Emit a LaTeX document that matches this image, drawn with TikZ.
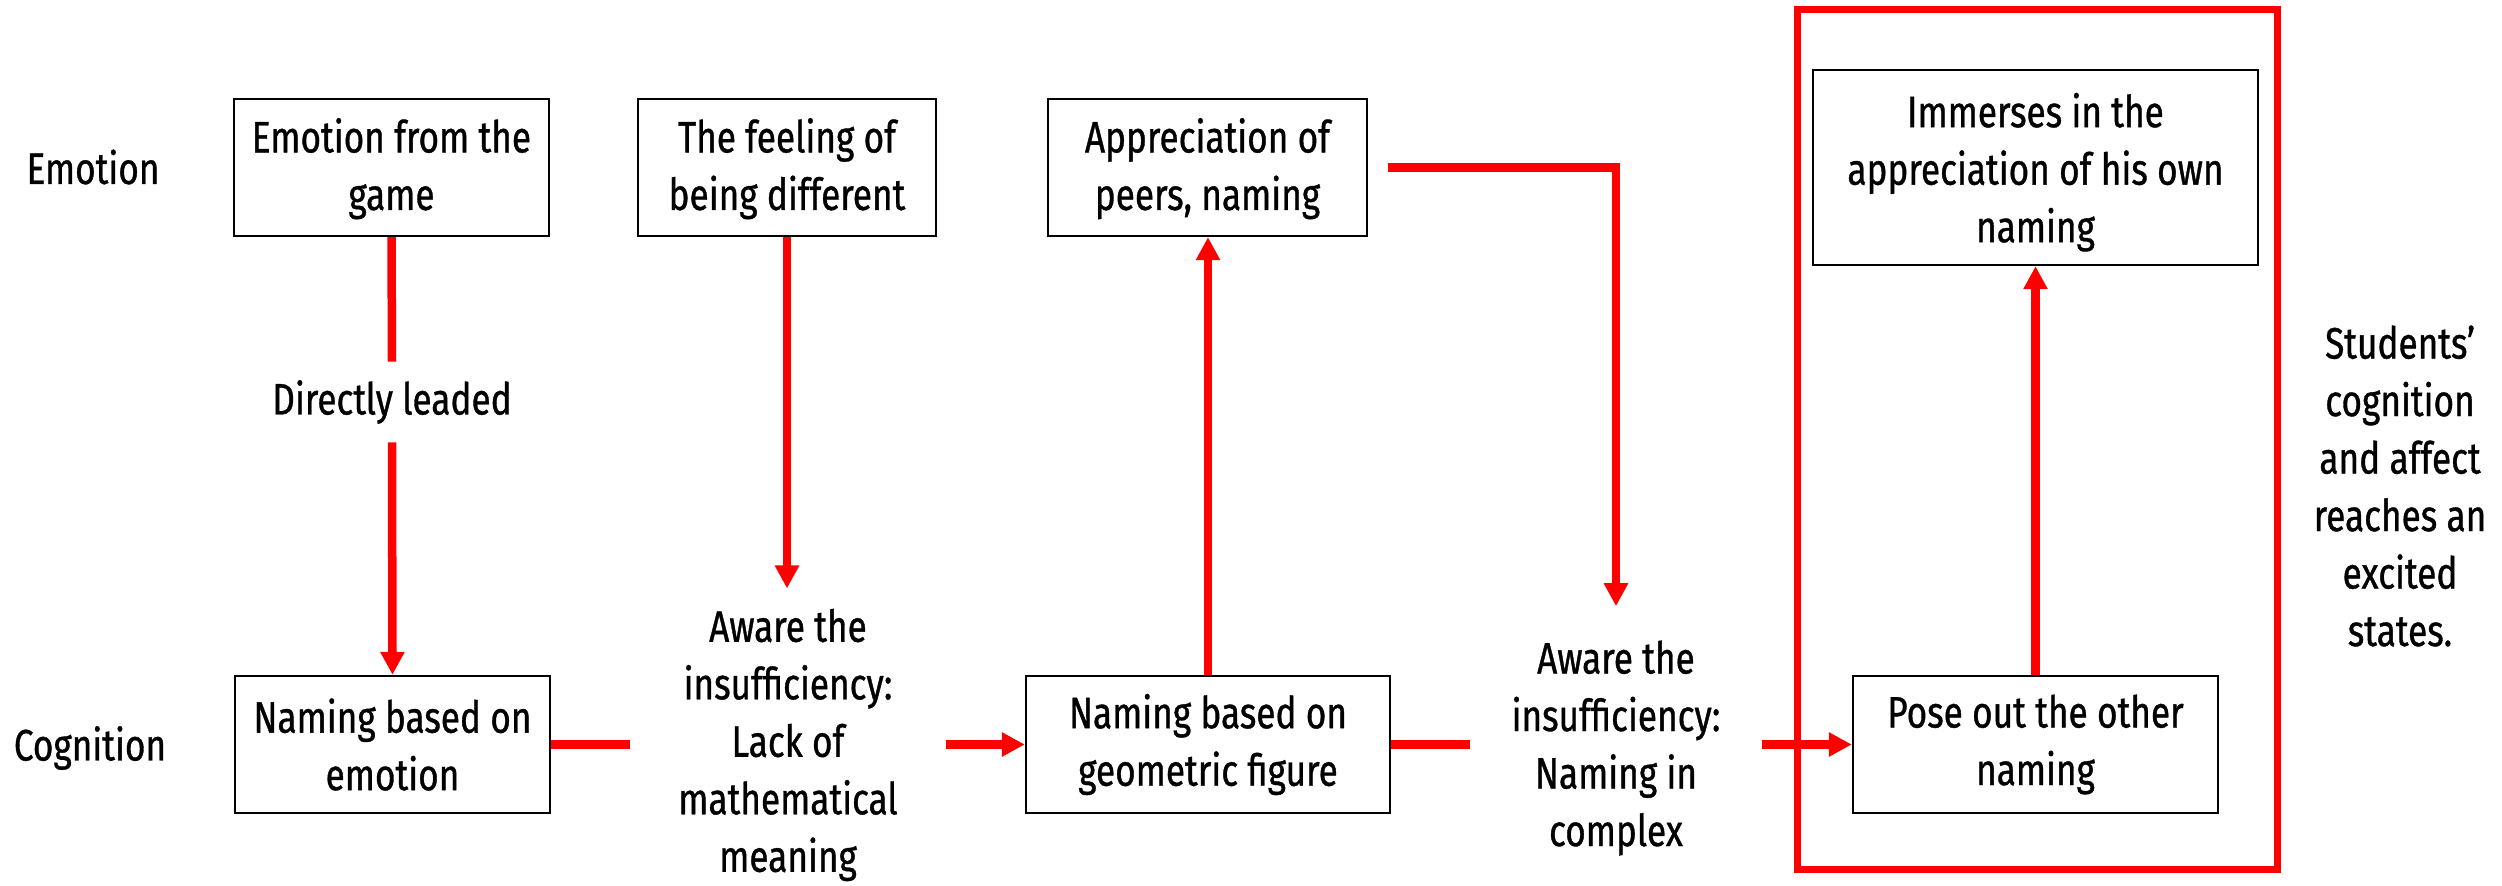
\documentclass[tikz,border=0pt]{standalone}
\usepackage{fontspec}
\setmainfont{Fira Sans}[FakeStretch=0.8, FakeBold=0.8]
\usetikzlibrary{arrows.meta}
\newcommand\dfont{\fontsize{22}{28.75}\selectfont}
\begin{document}
\begin{tikzpicture}[x=0.5pt,y=-0.5pt,
  box/.style={draw=black, line width=1.2pt, fill=white, align=center,
    inner sep=0pt, font=\dfont, minimum height=68.5pt},
  lbl/.style={align=center, inner sep=0pt, font=\dfont},
  flow/.style={draw=red, line width=4.25pt},
  flowarrow/.style={flow, -{Triangle[length=11.5pt,width=11.5pt]}}]
\useasboundingbox (0,0) rectangle (2502,885);

% row labels
\node[lbl] (emo) at (93,167) {Emotion};
\node[lbl] (cog) at (90,748) {Cognition};

% emotion row
\node[box, minimum width=157.5pt, text depth=3.5pt] (b1) at (391.5,167.5) {Emotion from the\\game};
\node[box, minimum width=149pt, text depth=3.5pt] (b2) at (787,167.5) {The feeling of\\being different};
\node[box, minimum width=159.5pt, text depth=3.5pt] (b3) at (1207.5,167.5) {Appreciation of\\peers, naming};
\node[box, minimum width=222.5pt, minimum height=97.5pt, text depth=-11pt] (b4) at (2035.5,167.5)
  {Immerses in the\\appreciation of his own\\naming};

% cognition row
\node[box, minimum width=157.5pt] (b5) at (392.5,744.5) {Naming based on\\emotion};
\node[box, minimum width=182pt] (b6) at (1208,744.5) {Naming based on\\geometric figure};
\node[box, minimum width=182.5pt] (b7) at (2035.5,744.5) {Pose out the other\\naming};

% labels standing in the connectors
\node[lbl, minimum height=40pt] (lead) at (392,402) {Directly leaded};
\node[lbl, minimum width=158pt] (aw1) at (788,745)
  {Aware the\\insufficiency:\\Lack of\\mathematical\\meaning};
\node[lbl, minimum width=146pt] (aw2) at (1616,748)
  {Aware the\\insufficiency:\\Naming in\\complex};

% closing remark
\node[lbl] (res) at (2400,486)
  {Students'\\cognition\\and affect\\reaches an\\excited\\states.};

% frame around the final stage
\draw[red, line width=3.5pt] (1797,9.5) rectangle (2277,869.5);

% connectors
\draw[flow] (b1.south) -- (lead.north);
\draw[flowarrow] (lead.south) -- (b5.north);
\draw[flowarrow, shorten >=10pt] (b2.south) -- (b2.south |- aw1.north);
\draw[flow] (b5.east) -- (b5.east -| aw1.west);
\draw[flowarrow] (aw1.east |- b6.west) -- (b6.west);
\draw[flowarrow] (b6.north) -- (b6.north |- b3.south);
\draw[flowarrow, shorten >=17pt] ([xshift=10pt]b3.east) -- (b3.east -| aw2.north) -- (aw2.north);
\draw[flow] (b6.east) -- (b6.east -| aw2.west);
\draw[flowarrow] (aw2.east |- b7.west) -- (b7.west);
\draw[flowarrow] (b7.north) -- (b4.south);
\end{tikzpicture}
\end{document}
